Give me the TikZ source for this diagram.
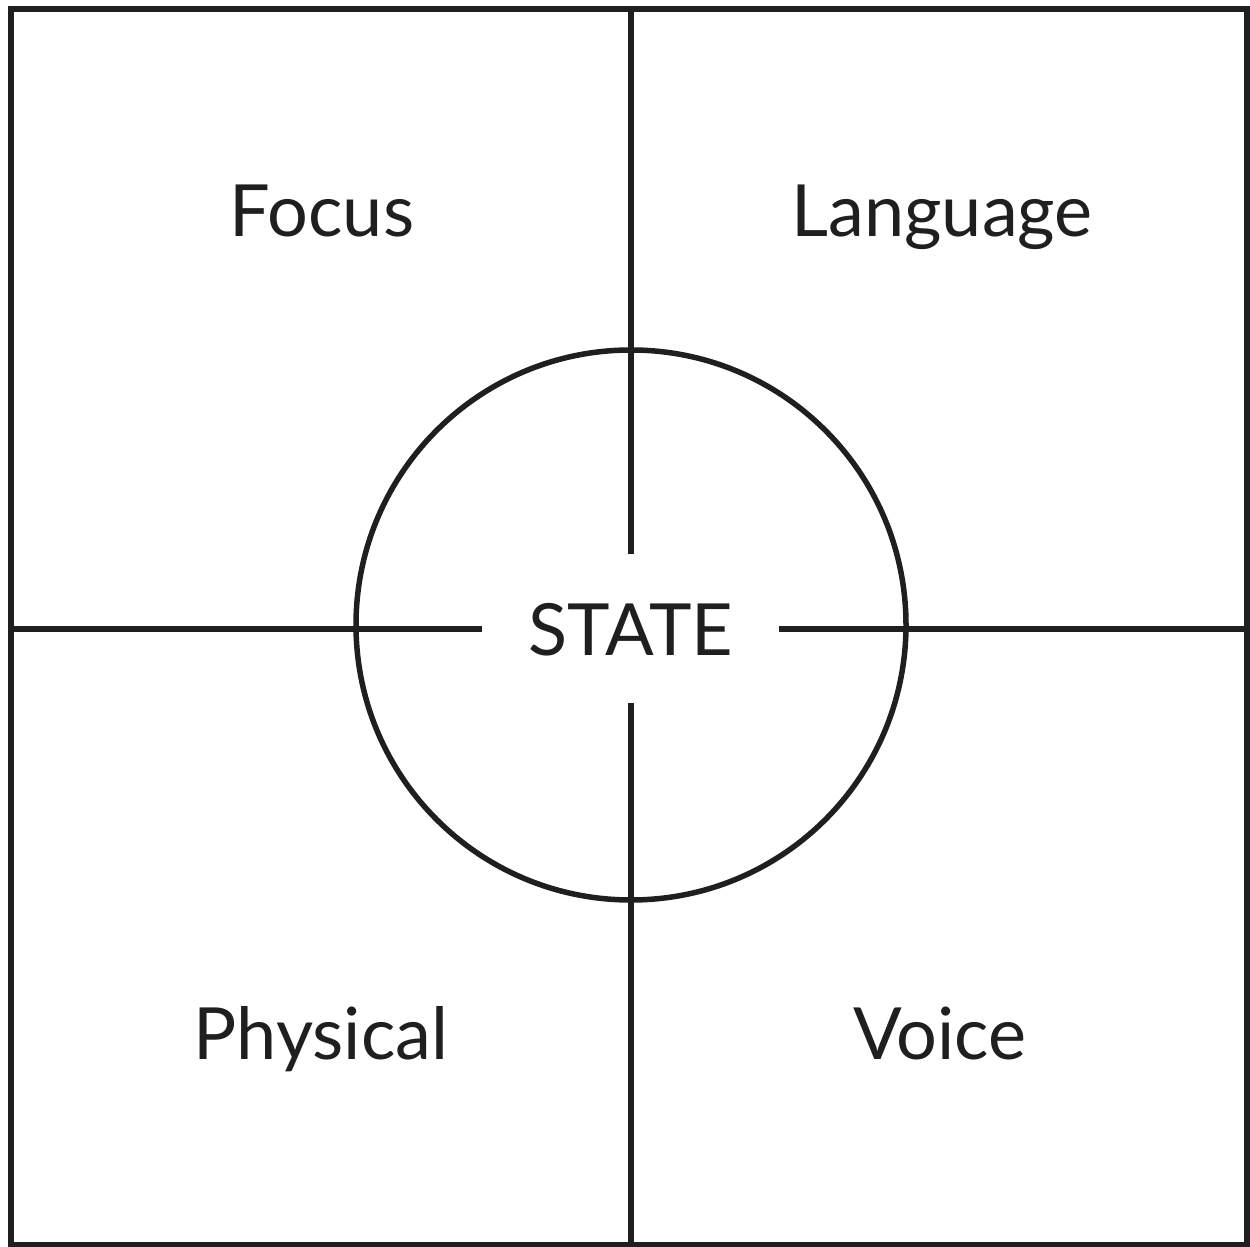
\documentclass[tikz,border=0pt]{standalone}
\usepackage{fontspec}
\setmainfont{Lato}
\begin{document}
\begin{tikzpicture}[x=1pt,y=1pt,
  lbl/.style={anchor=base,inner sep=0pt,font=\fontsize{72}{86}\selectfont,text=black!88},
  ln/.style={line width=5.5pt,draw=black!88}]
\useasboundingbox (0,0) rectangle (1250,1247);
\fill[white] (0,0) rectangle (1250,1247);
% outer frame
\coordinate (tl) at (11,1238);
\coordinate (br) at (1247,2);
\draw[ln] (tl) rectangle (br);
% axis end points
\coordinate (top) at (631,1238);
\coordinate (bot) at (631,2);
\coordinate (lft) at (11,618);
\coordinate (rgt) at (1247,618);
\coordinate (vt) at (631,693);
\coordinate (vb) at (631,544);
\coordinate (hl) at (482,618);
\coordinate (hr) at (779,618);
% circle
\node[ln,circle,minimum size=550pt,inner sep=0pt] (ring) at (631,622) {};
\draw[ln] (top) -- (vt);
\draw[ln] (vb) -- (bot);
\draw[ln] (lft) -- (hl);
\draw[ln] (hr) -- (rgt);
% labels
\node[lbl] (state) at (631,591) {STATE};
\node[lbl] (focus) at (322,1010) {Focus};
\node[lbl] (lang) at (942,1010) {Language};
\node[lbl] (phys) at (321,187) {Physical};
\node[lbl] (voice) at (940,187) {Voice};
\end{tikzpicture}
\end{document}
